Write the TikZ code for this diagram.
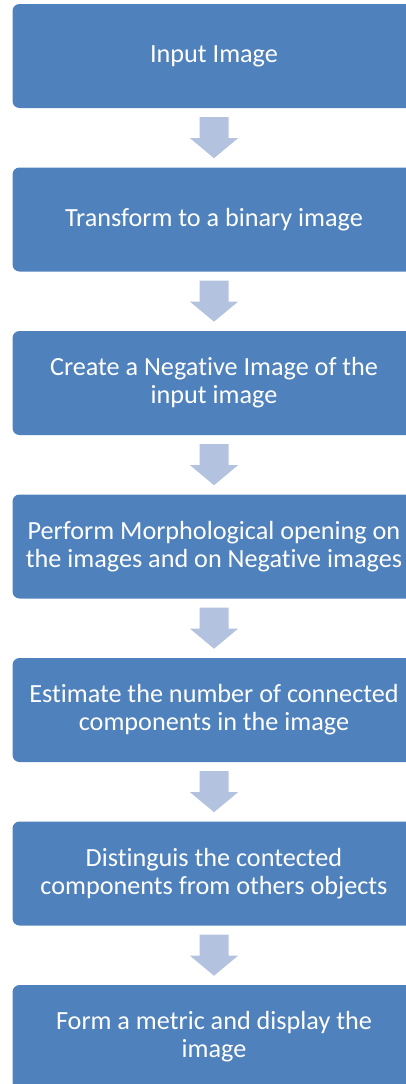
\documentclass[tikz,border=0pt]{standalone}
\usepackage{fontspec}
\setmainfont{Carlito}[Ligatures=NoCommon]
\usetikzlibrary{calc}
\definecolor{boxblue}{HTML}{4F81BD}
\definecolor{arrowblue}{HTML}{B3C3DF}
\tikzset{
  stepbox/.style={fill=boxblue, draw=none, rounded corners=7pt, minimum width=403pt,
    minimum height=104pt, text=white, align=center, inner sep=0pt,
    font=\fontsize{26.2pt}{28pt}\selectfont},
  downarrow/.style={fill=arrowblue, draw=none}
}
\begin{document}
\begin{tikzpicture}[x=1pt,y=1pt]
\useasboundingbox (0,0) rectangle (406,-1084);
\clip (0,0) rectangle (406,-1084);
\node[stepbox] (b1) at (214,-56) {Input Image};
\node[stepbox] (b2) at (214,-219.5) {Transform to a binary image};
\node[stepbox] (b3) at (214,-383) {Create a Negative Image of the\\input image};
\node[stepbox] (b4) at (214,-546.5) {Perform Morphological opening on\\the images and on Negative images};
\node[stepbox] (b5) at (214,-710) {Estimate the number of connected\\components in the image};
\node[stepbox] (b6) at (214,-873.5) {Distinguis the contected\\components from others objects};
\node[stepbox] (b7) at (214,-1037) {Form a metric and display the\\image};
\foreach \i in {1,...,6}{
  \fill[downarrow] ($(b\i.south)+(-14.5,-9)$) -- ($(b\i.south)+(14.5,-9)$)
    -- ($(b\i.south)+(14.5,-30)$) -- ($(b\i.south)+(24,-30)$)
    -- ($(b\i.south)+(0,-50)$) -- ($(b\i.south)+(-24,-30)$)
    -- ($(b\i.south)+(-14.5,-30)$) -- cycle;
}
\end{tikzpicture}
\end{document}
